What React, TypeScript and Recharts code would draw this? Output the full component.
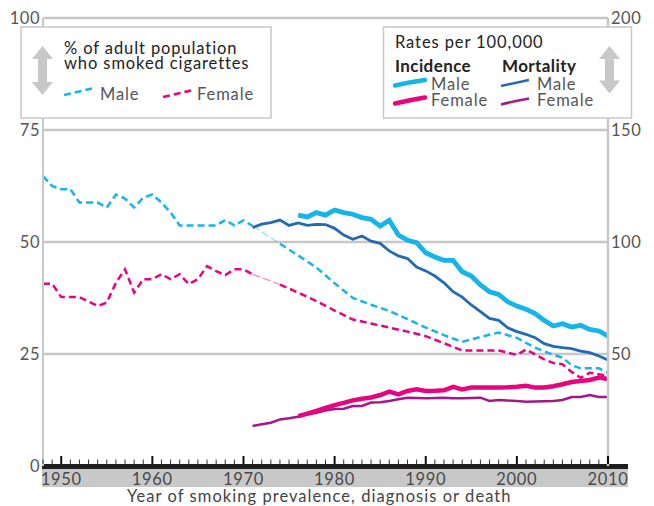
import React from "react";
import { LineChart, Line, XAxis, YAxis, ReferenceLine } from "recharts";

// ---- data ----
const prevMaleEarlyYears = [1948,1949,1950,1951,1952,1953,1954,1955,1956,1957,1958,1959,1960,1961,1962,1963,1964,1965,1966,1967,1968,1969,1970,1971];
const prevMaleEarly = [64.7,62.5,61.8,61.8,58.8,58.8,58.8,57.7,60.6,59.7,57.7,59.9,60.6,58.8,56.6,53.7,53.7,53.7,53.7,53.7,54.9,53.7,54.8,53.6];
const prevFemaleEarly = [40.7,40.7,37.7,37.7,37.7,36.7,35.7,36.5,40.9,43.9,38.7,41.7,41.7,42.8,41.7,42.8,40.6,41.7,44.6,43.5,42.6,43.9,43.9,42.8];

const prevGapYears = [1971, 1974];
const prevMaleGap = [53.6, 49.6];
const prevFemaleGap = [42.8, 40.5];

const prevLateYears = [1974,1976,1978,1980,1982,1984,1986,1988,1990,1992,1994,1996,1998,2000,2001,2002,2003,2004,2005,2006,2007,2008,2009,2010];
const prevMaleLate = [49.6,47.0,44.3,40.8,37.5,36.0,34.6,32.8,30.9,29.2,27.7,28.8,29.8,28.6,27.5,26.4,25.6,24.8,24.2,22.5,21.8,21.8,21.8,20.8];
const prevFemaleLate = [40.5,38.7,36.8,34.7,32.7,31.8,30.9,30.0,29.0,27.4,25.8,25.8,25.8,24.8,26.0,24.9,23.8,23.0,22.7,21.0,19.7,20.8,20.5,20.1];

const incidenceYears = [1976,1977,1978,1979,1980,1981,1982,1983,1984,1985,1986,1987,1988,1989,1990,1991,1992,1993,1994,1995,1996,1997,1998,1999,2000,2001,2002,2003,2004,2005,2006,2007,2008,2009,2010];
const incidenceMale = [112,111.2,113.1,112,114.3,113.1,112.4,110.9,110.1,107.1,109.7,103.1,100.8,99.7,95.2,93.3,91.8,91.8,86.7,84.8,80.8,77.8,76.6,73.3,71.4,70,68,65,62.5,63.5,62,62.8,61,60.3,58];
const incidenceFemale = [22.3,23.4,24.6,25.9,27.2,28.2,29.3,30.0,30.6,31.7,33.2,32.0,33.5,34.2,33.5,33.6,33.8,35.3,34.2,35.0,35.0,35.0,35.1,35.2,35.4,35.8,35.0,35.0,35.6,36.5,37.5,37.9,38.4,39.5,38.8];

const mortalityYears = [1971,1972,1973,1974,1975,1976,1977,1978,1979,1980,1981,1982,1983,1984,1985,1986,1987,1988,1989,1990,1991,1992,1993,1994,1995,1996,1997,1998,1999,2000,2001,2002,2003,2004,2005,2006,2007,2008,2009,2010];
const mortalityMale = [106.4,108,108.7,109.8,107.4,108.5,107.4,107.9,107.8,106.1,103.1,101.2,102.7,100.4,99.4,96,93.8,92.6,88.8,87.1,84.8,81.8,77.8,75.4,71.9,68.9,65.9,65,61.7,60,58.8,57.3,54.6,53.4,52.8,52.4,51.3,50.6,49.1,47.3];
const mortalityFemale = [17.9,18.6,19.3,20.8,21.3,22.0,23.0,23.8,24.8,25.4,25.6,26.8,26.8,28.3,28.5,29.0,29.8,30.5,30.4,30.2,30.4,30.5,30.3,30.2,30.4,30.5,29.0,29.5,29.2,29.0,28.7,28.8,28.9,29.0,29.5,30.8,30.8,31.7,30.8,30.8];

const firstYear = 1948;
const lastYear = 2010;
const leftTicks = [0, 25, 50, 75, 100];
const rightTicks = [50, 100, 150, 200];
const gridValues = [25, 50, 75, 100];

// ---- build table ----
const allYears: number[] = [];
for (let y = firstYear; y <= lastYear; y++) allYears.push(y);

const rows: any[] = allYears.map((year) => ({ year }));
const put = (key: string, years: number[], vals: number[]) => {
  years.forEach((yr, i) => {
    rows[yr - firstYear][key] = vals[i];
  });
};
put("pmA", prevMaleEarlyYears, prevMaleEarly);
put("pfA", prevMaleEarlyYears, prevFemaleEarly);
put("pmG", prevGapYears, prevMaleGap);
put("pfG", prevGapYears, prevFemaleGap);
put("pmB", prevLateYears, prevMaleLate);
put("pfB", prevLateYears, prevFemaleLate);
put("im", incidenceYears, incidenceMale);
put("if", incidenceYears, incidenceFemale);
put("mm", mortalityYears, mortalityMale);
put("mf", mortalityYears, mortalityFemale);

const CYAN = "#16b4e8";
const PINK = "#e6057f";
const BLUE = "#226bb4";
const PURPLE = "#a3178b";
const GRID = "#c8c8c8";
const FONT = "Lato, 'Open Sans', sans-serif";
const LS = 0.9;

const XTick = (props: any) => {
  const { x, y, payload } = props;
  const year = payload.value;
  const major = year % 10 === 0;
  return (
    <g>
      <line x1={x} x2={x} y1={y - 2} y2={major ? y - 10 : y - 6.5} stroke={major ? "#111" : "#333"} strokeWidth={major ? 2 : 1} />
      {major && (
        <text x={x} y={y + 19} textAnchor="middle" fontSize={16.5} letterSpacing={0.7} fill="#4a4a4a" fontFamily={FONT}>
          {year}
        </text>
      )}
    </g>
  );
};

const LeftTick = (props: any) => {
  const { x, y, payload } = props;
  return (
    <text x={x - 3} y={y + 5.5} textAnchor="end" fontSize={16.5} letterSpacing={0.5} fill="#555" fontFamily={FONT}>
      {payload.value}
    </text>
  );
};

const RightTick = (props: any) => {
  const { x, y, payload } = props;
  return (
    <text x={x + 3} y={y + 5.5} textAnchor="start" fontSize={16.5} letterSpacing={0.5} fill="#555" fontFamily={FONT}>
      {payload.value}
    </text>
  );
};

const Arrow = ({ cx, top, bottom }: { cx: number; top: number; bottom: number }) => {
  const hw = 10.5;
  const sw = 4.5;
  const hh = 13;
  const pts = [
    [cx, top], [cx + hw, top + hh], [cx + sw, top + hh], [cx + sw, bottom - hh], [cx + hw, bottom - hh],
    [cx, bottom], [cx - hw, bottom - hh], [cx - sw, bottom - hh], [cx - sw, top + hh], [cx - hw, top + hh],
  ].map((p) => p.join(",")).join(" ");
  return <polygon points={pts} fill="#c8c8c8" />;
};

export default function App() {
  return (
    <div style={{ position: "absolute", left: 0, top: 0, width: 654, height: 506, fontFamily: FONT, background: "#fff" }}>
      <div style={{ position: "absolute", left: 42, top: 468, width: 586, height: 19, background: "#c8c8c8" }} />
      <div style={{ position: "absolute", left: 42, top: 464, width: 586, height: 4.5, background: "#1e1e1e" }} />
      <div style={{ position: "absolute", left: 0, top: 0 }}>
        <LineChart width={654} height={506} data={rows} margin={{ top: 18, right: 45, bottom: 0, left: 42 }}>
          <XAxis
            dataKey="year"
            type="number"
            domain={[firstYear, lastYear]}
            ticks={allYears}
            interval={0}
            height={40}
            axisLine={false}
            tickLine={false}
            tickSize={0}
            tickMargin={0}
            tick={(p: any) => <XTick {...p} />}
          />
          <YAxis
            yAxisId="L"
            domain={[0, 100]}
            ticks={leftTicks}
            interval={0}
            width={1}
            axisLine={{ stroke: GRID, strokeWidth: 2 }}
            tickLine={false}
            tickSize={0}
            tickMargin={0}
            tick={(p: any) => <LeftTick {...p} />}
          />
          <YAxis
            yAxisId="R"
            orientation="right"
            domain={[0, 200]}
            ticks={rightTicks}
            interval={0}
            width={1}
            axisLine={{ stroke: GRID, strokeWidth: 2.5 }}
            tickLine={false}
            tickSize={0}
            tickMargin={0}
            tick={(p: any) => <RightTick {...p} />}
          />
          {gridValues.map((v) => (
            <ReferenceLine key={v} yAxisId="L" y={v} stroke={GRID} strokeWidth={2.5} />
          ))}
          <Line yAxisId="L" dataKey="pmA" stroke={CYAN} strokeWidth={2.5} strokeDasharray="7 4" dot={false} connectNulls isAnimationActive={false} />
          <Line yAxisId="L" dataKey="pmG" stroke={CYAN} strokeOpacity={0.45} strokeWidth={1.3} strokeDasharray="8 3" dot={false} connectNulls isAnimationActive={false} />
          <Line yAxisId="L" dataKey="pmB" stroke={CYAN} strokeWidth={2.5} strokeDasharray="7 4" dot={false} connectNulls isAnimationActive={false} />
          <Line yAxisId="L" dataKey="pfA" stroke={PINK} strokeWidth={2.5} strokeDasharray="7 4" dot={false} connectNulls isAnimationActive={false} />
          <Line yAxisId="L" dataKey="pfG" stroke={PINK} strokeOpacity={0.45} strokeWidth={1.3} strokeDasharray="8 3" dot={false} connectNulls isAnimationActive={false} />
          <Line yAxisId="L" dataKey="pfB" stroke={PINK} strokeWidth={2.5} strokeDasharray="7 4" dot={false} connectNulls isAnimationActive={false} />
          <Line yAxisId="R" dataKey="mm" stroke={BLUE} strokeWidth={2.8} dot={false} connectNulls isAnimationActive={false} />
          <Line yAxisId="R" dataKey="mf" stroke={PURPLE} strokeWidth={2.5} dot={false} connectNulls isAnimationActive={false} />
          <Line yAxisId="R" dataKey="im" stroke={CYAN} strokeWidth={4.8} dot={false} connectNulls isAnimationActive={false} />
          <Line yAxisId="R" dataKey="if" stroke={PINK} strokeWidth={4.5} dot={false} connectNulls isAnimationActive={false} />
        </LineChart>
      </div>
      <svg width={654} height={506} style={{ position: "absolute", left: 0, top: 0, pointerEvents: "none" }} fontFamily={FONT} letterSpacing={LS}>
        {/* left legend */}
        <rect x={21} y={27} width={250} height={91} fill="#fff" stroke="#c8c8c8" strokeWidth={1.5} />
        <Arrow cx={42.5} top={46} bottom={95} />
        <text fontSize={16.5} fill="#222">
          <tspan x={64} y={54}>% of adult population</tspan>
          <tspan x={64} y={69}>who smoked cigarettes</tspan>
        </text>
        <line x1={64} y1={95} x2={92} y2={88.5} stroke={CYAN} strokeWidth={2.5} strokeDasharray="7 4" />
        <text x={100} y={100} fontSize={16.5} fill="#555">Male</text>
        <line x1={163} y1={97} x2={191} y2={90.5} stroke={PINK} strokeWidth={2.5} strokeDasharray="7 4" />
        <text x={197} y={100} fontSize={16.5} fill="#555">Female</text>
        {/* right legend */}
        <rect x={383.5} y={27} width={248} height={91} fill="#fff" stroke="#c8c8c8" strokeWidth={1.5} />
        <text x={395} y={48} fontSize={16.5} fill="#222">Rates per 100,000</text>
        <text fontSize={16.5} fill="#555">
          <tspan x={395} y={72} fontSize={17} fontWeight="bold" fill="#222" letterSpacing={0.4}>Incidence</tspan>
          <tspan x={431} y={90}>Male</tspan>
          <tspan x={431} y={106}>Female</tspan>
        </text>
        <text fontSize={16.5} fill="#555">
          <tspan x={502} y={72} fontSize={17} fontWeight="bold" fill="#222" letterSpacing={0.4}>Mortality</tspan>
          <tspan x={537} y={90}>Male</tspan>
          <tspan x={537} y={106}>Female</tspan>
        </text>
        <path d="M395,85.5 Q410,82 425,80" stroke={CYAN} strokeWidth={4.5} fill="none" strokeLinecap="round" />
        <path d="M395,103.5 Q410,100 425,97.5" stroke={PINK} strokeWidth={4.5} fill="none" strokeLinecap="round" />
        <path d="M501,86 Q515,83 529,80" stroke={BLUE} strokeWidth={2.5} fill="none" />
        <path d="M501,104.5 Q515,101 529,98.5" stroke={PURPLE} strokeWidth={2.5} fill="none" />
        <Arrow cx={609.5} top={46} bottom={93.5} />
        {/* axis title */}
        <text x={127} y={502} fontSize={16.5} fill="#444" letterSpacing={1.05}>Year of smoking prevalence, diagnosis or death</text>
      </svg>
    </div>
  );
}
